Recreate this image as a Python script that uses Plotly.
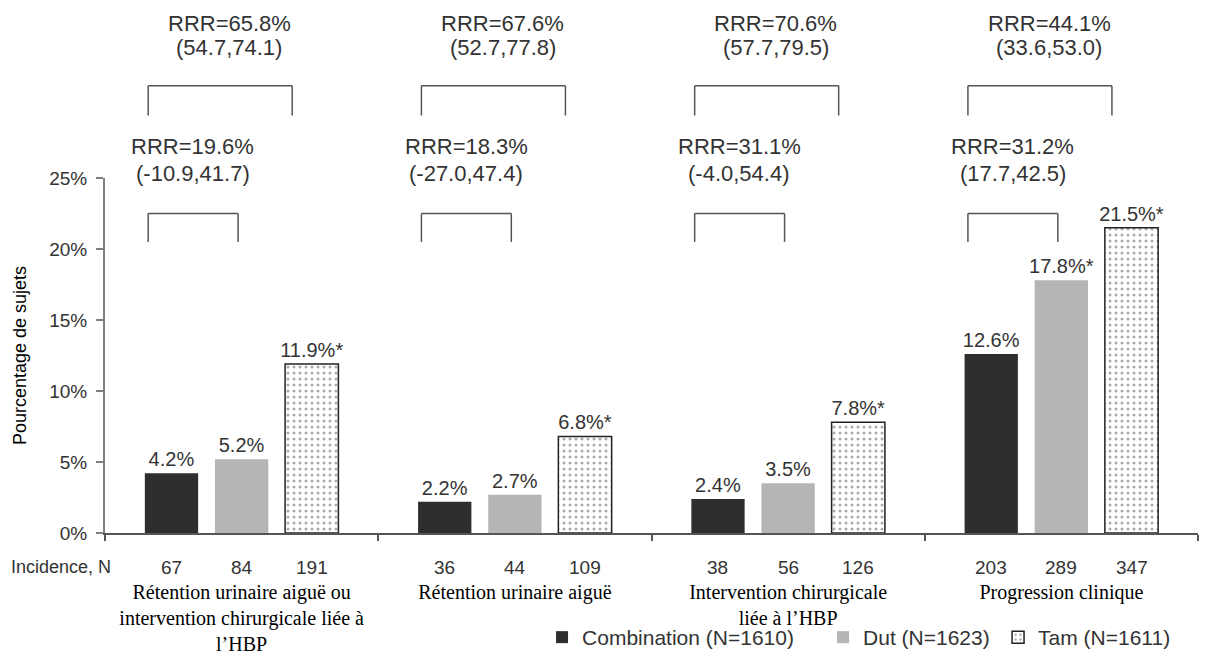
import plotly.graph_objects as go

# ---------------- data ----------------
categories = [
    "Rétention urinaire aiguë ou<br>intervention chirurgicale liée à<br>l’HBP",
    "Rétention urinaire aiguë",
    "Intervention chirurgicale<br>liée à l’HBP",
    "Progression clinique",
]
series_names = ["Combination (N=1610)", "Dut (N=1623)", "Tam (N=1611)"]
combination = [4.2, 2.2, 2.4, 12.6]
dut = [5.2, 2.7, 3.5, 17.8]
tam = [11.9, 6.8, 7.8, 21.5]
comb_signif = [False, False, False, False]
dut_signif = [False, False, False, True]
tam_signif = [True, True, True, True]

incidence_comb = [67, 36, 38, 203]
incidence_dut = [84, 44, 56, 289]
incidence_tam = [191, 109, 126, 347]

rrr_comb_dut = ["RRR=19.6%", "RRR=18.3%", "RRR=31.1%", "RRR=31.2%"]
ci_comb_dut = ["(-10.9,41.7)", "(-27.0,47.4)", "(-4.0,54.4)", "(17.7,42.5)"]
rrr_comb_tam = ["RRR=65.8%", "RRR=67.6%", "RRR=70.6%", "RRR=44.1%"]
ci_comb_tam = ["(54.7,74.1)", "(52.7,77.8)", "(57.7,79.5)", "(33.6,53.0)"]

y_ticks = [0, 5, 10, 15, 20, 25]
y_tick_labels = ["0%", "5%", "10%", "15%", "20%", "25%"]
y_max = 25

# ---------------- style ----------------
SANS = "Liberation Sans, Arial, sans-serif"
SERIF = "Liberation Serif, Times New Roman, serif"
TXT = "#333333"
bargap = 0.23
bargroupgap = 0.24
slot = (1 - bargap) / 3  # distance between bar centres inside a group


def labels(vals, sig):
    return [f"{v:.1f}%" + ("*" if s else "") for v, s in zip(vals, sig)]


fig = go.Figure()
fig.add_trace(go.Bar(
    name=series_names[0], x=categories, y=combination,
    text=labels(combination, comb_signif), legendwidth=236,
    marker=dict(color="#2e2e2e", line=dict(width=0)),
))
fig.add_trace(go.Bar(
    name=series_names[1], x=categories, y=dut,
    text=labels(dut, dut_signif), legendwidth=130,
    marker=dict(color="#b5b5b5", line=dict(width=0)),
))
fig.add_trace(go.Bar(
    name=series_names[2], x=categories, y=tam,
    text=labels(tam, tam_signif),
    marker=dict(color="white",
                pattern=dict(shape=".", fgcolor="#555555", bgcolor="white",
                             size=6, solidity=0.2),
                line=dict(color="#222222", width=1.5)),
))
fig.update_traces(textposition="outside", constraintext="none", cliponaxis=False,
                  textfont=dict(family=SANS, size=20, color=TXT))

shapes = []
annotations = []


def pct_to_paper(p):
    return p / y_max


# bracket geometry (in group-index units and percent units)
outer_x = (-0.342, 0.185)
inner_x = (-0.342, -0.013)
outer_y = (29.4, 31.5)
inner_y = (20.5, 22.5)
outer_text_dx = -0.045
inner_text_dx = -0.178
outer_text_y = (35.9, 34.2)
inner_text_y = (27.2, 25.3)

line_style = dict(color="#555555", width=1.5)
for i in range(len(categories)):
    for (xa, xb), (ya, yb) in ((outer_x, outer_y), (inner_x, inner_y)):
        x0, x1 = i + xa, i + xb
        y0, y1 = pct_to_paper(ya), pct_to_paper(yb)
        for sx0, sy0, sx1, sy1 in ((x0, y0, x0, y1), (x0, y1, x1, y1), (x1, y1, x1, y0)):
            shapes.append(dict(type="line", xref="x", yref="paper",
                               x0=sx0, y0=sy0, x1=sx1, y1=sy1, line=line_style))
    for txt, dx, yy in ((rrr_comb_tam[i], outer_text_dx, outer_text_y[0]),
                        (ci_comb_tam[i], outer_text_dx, outer_text_y[1]),
                        (rrr_comb_dut[i], inner_text_dx, inner_text_y[0]),
                        (ci_comb_dut[i], inner_text_dx, inner_text_y[1])):
        annotations.append(dict(text=txt, xref="x", yref="paper", x=i + dx,
                                y=pct_to_paper(yy), showarrow=False,
                                xanchor="center", yanchor="middle",
                                font=dict(family=SANS, size=22, color=TXT)))
    # incidence row
    for k, arr in enumerate((incidence_comb, incidence_dut, incidence_tam)):
        annotations.append(dict(text=str(arr[i]), xref="x", yref="paper",
                                x=i + (k - 1) * slot, y=-0.096, showarrow=False,
                                xanchor="center", yanchor="middle",
                                font=dict(family=SANS, size=19, color=TXT)))

annotations.append(dict(text="Incidence, N", xref="paper", yref="paper",
                        x=-0.088, y=-0.096, showarrow=False,
                        xanchor="left", yanchor="middle",
                        font=dict(family=SANS, size=18, color=TXT)))

fig.update_layout(
    width=1217, height=658,
    margin=dict(l=105, r=19, t=178, b=125),
    paper_bgcolor="white", plot_bgcolor="white",
    barmode="group", bargap=bargap, bargroupgap=bargroupgap,
    shapes=shapes, annotations=annotations,
    showlegend=True,
    legend=dict(orientation="h", xref="container", yref="container",
                x=0.4454, xanchor="left", y=0, yanchor="bottom",
                font=dict(family=SANS, size=21, color=TXT),
                bgcolor="rgba(0,0,0,0)", itemwidth=30, traceorder="normal"),
    xaxis=dict(type="category", showline=True, linecolor="#555555", linewidth=1.5,
               ticks="outside", tickson="boundaries", ticklen=6, tickcolor="#555555",
               tickwidth=1.5, showgrid=False, zeroline=False, automargin=False,
               ticklabelstandoff=40,
               tickfont=dict(family=SERIF, size=20, color="black")),
    yaxis=dict(range=[0, y_max], tickvals=y_ticks, ticktext=y_tick_labels,
               showline=True, linecolor="#808080", linewidth=2,
               ticks="outside", ticklen=7, tickcolor="#808080", tickwidth=1.5,
               showgrid=False, zeroline=False, automargin=False,
               ticklabelstandoff=5,
               tickfont=dict(family=SANS, size=19, color=TXT),
               title=dict(text="Pourcentage de sujets", standoff=18,
                          font=dict(family=SANS, size=18, color="black"))),
)

fig.write_html("out.html", config={"displayModeBar": False},
               post_script="document.body.style.margin='0';document.body.style.overflow='hidden';")
